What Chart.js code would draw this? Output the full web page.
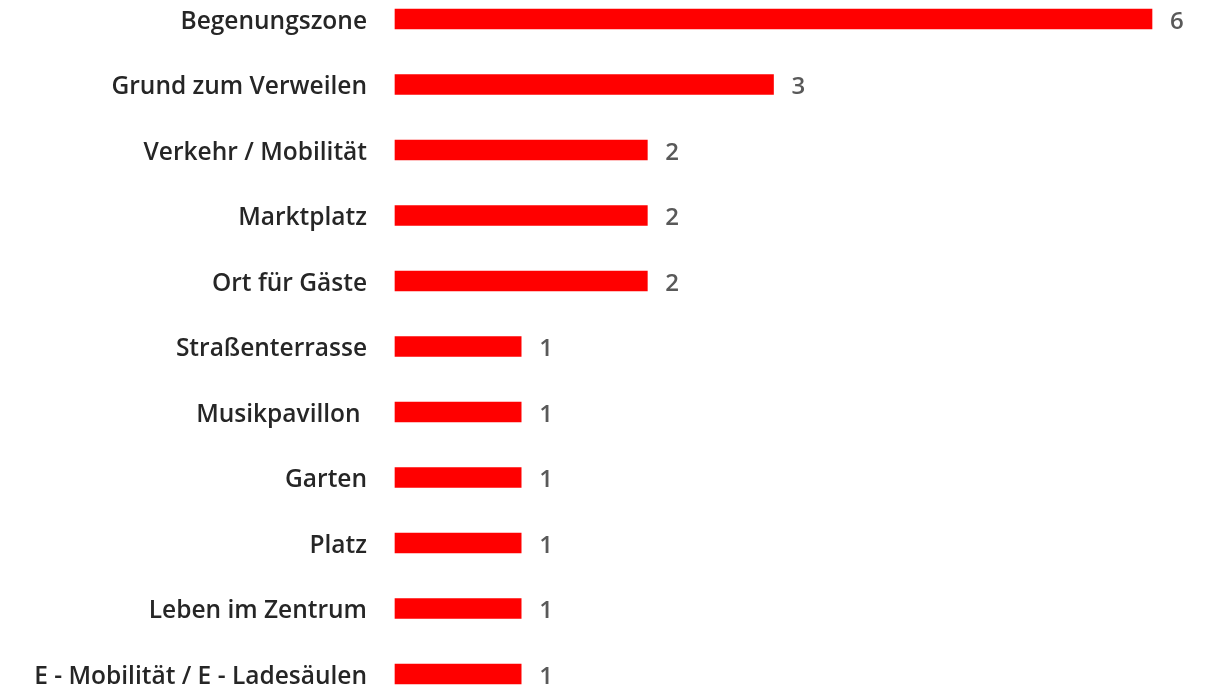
<!DOCTYPE html>
<html>
<head>
<meta charset="utf-8">
<script src="https://cdn.jsdelivr.net/npm/chart.js@4"></script>
<style>
html,body{margin:0;padding:0;background:#fff;}
#wrap{width:1212px;height:690px;position:relative;}
</style>
</head>
<body>
<div id="wrap"><canvas id="c" width="1212" height="690"></canvas></div>
<script>
const categories = [
  "Begenungszone",
  "Grund zum Verweilen",
  "Verkehr / Mobilität",
  "Marktplatz",
  "Ort für Gäste",
  "Straßenterrasse",
  "Musikpavillon ",
  "Garten",
  "Platz",
  "Leben im Zentrum",
  "E - Mobilität / E - Ladesäulen"
];
const values = [6, 3, 2, 2, 2, 1, 1, 1, 1, 1, 1];

const valueLabels = {
  id: 'valueLabels',
  afterDatasetsDraw(chart) {
    const ctx = chart.ctx;
    const meta = chart.getDatasetMeta(0);
    ctx.save();
    ctx.font = '600 24px "Open Sans", sans-serif';
    ctx.fillStyle = '#595959';
    ctx.textAlign = 'left';
    ctx.textBaseline = 'middle';
    meta.data.forEach((bar, i) => {
      ctx.fillText(String(values[i]), bar.x + 18, bar.y + 3);
    });
    ctx.restore();
  }
};

new Chart(document.getElementById('c'), {
  type: 'bar',
  data: {
    labels: categories,
    datasets: [{
      data: values,
      backgroundColor: '#FF0000',
      borderWidth: 0,
      barThickness: 20,
      clip: false
    }]
  },
  options: {
    responsive: false,
    animation: false,
    indexAxis: 'y',
    layout: { padding: { top: 19, bottom: 16, right: 60, left: 0 } },
    plugins: { legend: { display: false }, tooltip: { enabled: false } },
    scales: {
      x: { display: false, min: 0, max: 6 },
      y: {
        offset: false,
        grid: { display: false, drawTicks: false },
        border: { display: false },
        afterFit(scale) {
          scale.width = 395;
          scale.paddingTop = 0;
          scale.paddingBottom = 0;
        },
        ticks: {
          padding: 28,
          labelOffset: 3,
          color: '#262626',
          font: { family: '"Open Sans", sans-serif', size: 24.5, weight: '600' },
          autoSkip: false
        }
      }
    }
  },
  plugins: [valueLabels]
});
</script>
</body>
</html>
